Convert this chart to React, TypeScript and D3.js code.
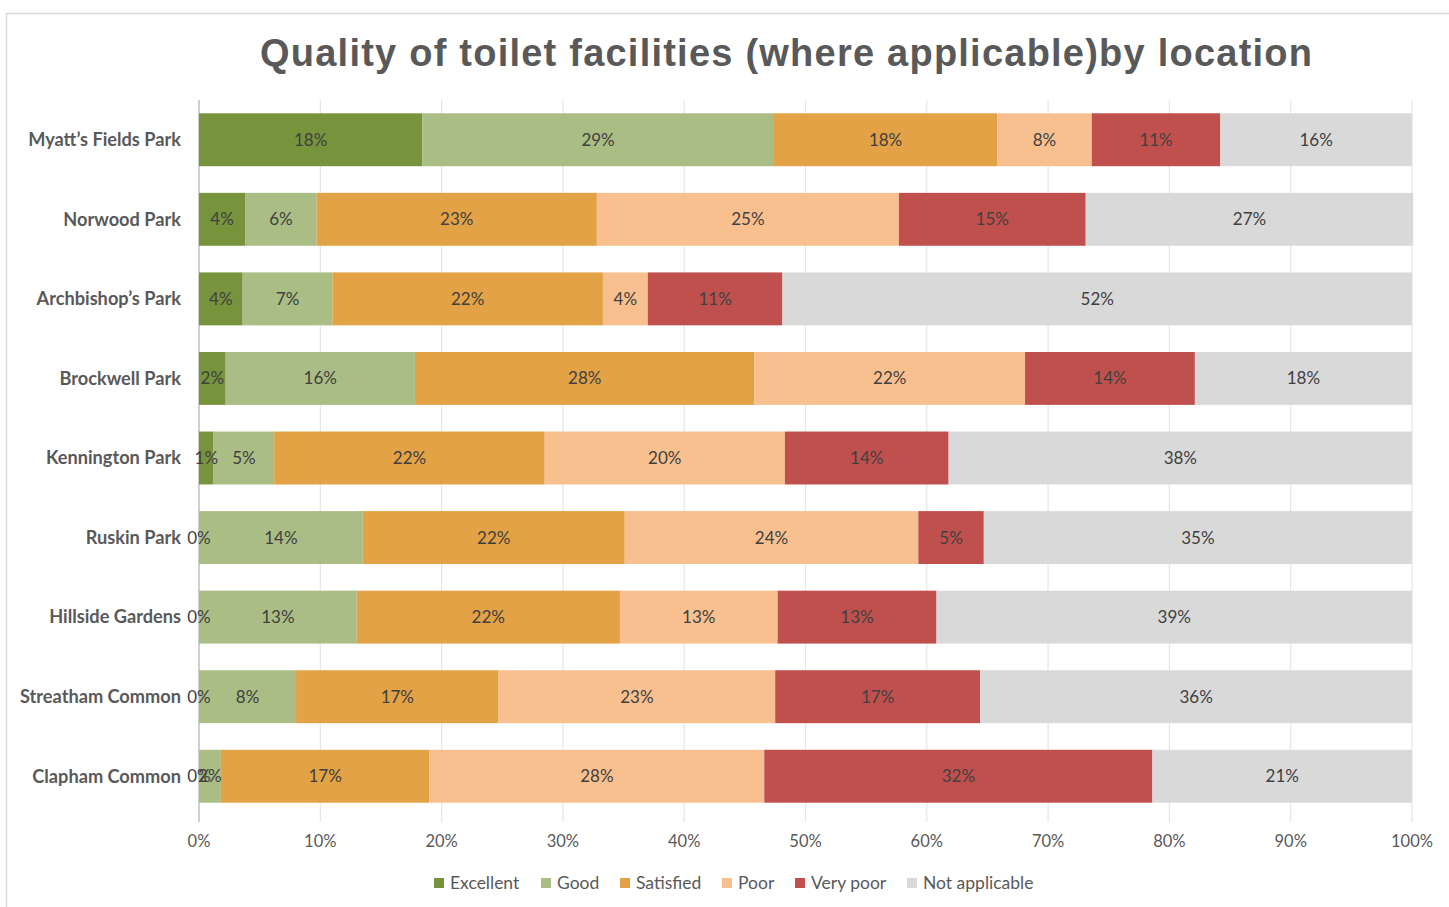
import React from "react";
import * as d3 from "d3";

const categories = [
  "Myatt\u2019s Fields Park",
  "Norwood Park",
  "Archbishop\u2019s Park",
  "Brockwell Park",
  "Kennington Park",
  "Ruskin Park",
  "Hillside Gardens",
  "Streatham Common",
  "Clapham Common",
];

const seriesNames = ["Excellent", "Good", "Satisfied", "Poor", "Very poor", "Not applicable"];

const excellent = [18.4, 3.8, 3.6, 2.2, 1.2, 0, 0, 0, 0];
const good = [29.0, 5.9, 7.4, 15.6, 5.0, 13.5, 13.0, 8.0, 1.8];
const satisfied = [18.4, 23.1, 22.3, 28.0, 22.3, 21.6, 21.7, 16.7, 17.2];
const poor = [7.8, 24.9, 3.7, 22.3, 19.8, 24.2, 13.0, 22.8, 27.6];
const veryPoor = [10.6, 15.4, 11.1, 14.0, 13.5, 5.4, 13.1, 16.9, 32.0];
const notApplicable = [15.8, 27.0, 51.9, 17.9, 38.2, 35.3, 39.2, 35.6, 21.4];

const xTicks = [0, 10, 20, 30, 40, 50, 60, 70, 80, 90, 100];

const colors = ["#77933C", "#A9BD84", "#E2A245", "#F9C08F", "#C0504D", "#D9D9D9"];

const allSeries = [excellent, good, satisfied, poor, veryPoor, notApplicable];

const W = 1449;
const H = 907;
const plotLeft = 199;
const plotRight = 1412;
const plotTop = 100;
const plotBottom = 816;

export default function App() {
  const x = d3.scaleLinear().domain([0, 100]).range([plotLeft, plotRight]);
  const y = d3
    .scaleBand<string>()
    .domain(categories)
    .range([plotTop, plotBottom])
    .paddingInner(0.335)
    .paddingOuter(0.167);

  const table = categories.map((c, i) => {
    const row: any = { cat: c };
    seriesNames.forEach((s, j) => (row[s] = allSeries[j][i]));
    return row;
  });
  const stacked = d3.stack<any>().keys(seriesNames)(table);

  const labelFont = "Lato, 'Open Sans', sans-serif";

  const legendX = [434, 541, 620, 722, 795, 907];
  const legendY = 883;

  return (
    <svg
      width={W}
      height={H}
      style={{ position: "absolute", left: 0, top: 0, background: "#fff" }}
      xmlns="http://www.w3.org/2000/svg"
    >
      <rect x={6.5} y={13.5} width={1460} height={1000} fill="#fff" stroke="#D9D9D9" strokeWidth={1.5} />
      <text
        x={260}
        y={66}
        textLength={1052}
        lengthAdjust="spacing"
        fontFamily="'Liberation Sans', Arial, sans-serif"
        fontWeight="bold"
        fontSize={38}
        fill="#595959"
      >
        Quality of toilet facilities (where applicable)by location
      </text>

      {xTicks.map((t) => (
        <line
          key={"g" + t}
          x1={x(t)}
          x2={x(t)}
          y1={plotTop}
          y2={plotBottom + 6}
          stroke={t === 0 ? "#BFBFBF" : "#E6E6E6"}
          strokeWidth={t === 0 ? 1.5 : 1.2}
        />
      ))}

      {stacked.map((layer, j) =>
        layer.map((d, i) => (
          <rect
            key={"b" + j + "-" + i}
            x={x(d[0])}
            y={y(categories[i])}
            width={Math.max(0, x(d[1]) - x(d[0]))}
            height={y.bandwidth()}
            fill={colors[j]}
          />
        ))
      )}

      {stacked.map((layer, j) =>
        layer.map((d, i) => (
          <text
            key={"l" + j + "-" + i}
            x={(x(d[0]) + x(d[1])) / 2}
            y={(y(categories[i]) as number) + y.bandwidth() / 2}
            dy="0.35em"
            textAnchor="middle"
            fontFamily={labelFont}
            fontSize={17}
            fill="#404040"
          >
            {Math.round(allSeries[j][i]) + "%"}
          </text>
        ))
      )}

      {categories.map((c) => (
        <text
          key={"c" + c}
          x={181}
          y={(y(c) as number) + y.bandwidth() / 2}
          dy="0.35em"
          textAnchor="end"
          fontFamily={labelFont}
          fontWeight="bold"
          fontSize={18.2}
          fill="#595959"
        >
          {c}
        </text>
      ))}

      {xTicks.map((t) => (
        <text
          key={"t" + t}
          x={x(t)}
          y={841}
          dy="0.35em"
          textAnchor="middle"
          fontFamily={labelFont}
          fontSize={16.5}
          fill="#595959"
        >
          {t + "%"}
        </text>
      ))}

      {seriesNames.map((s, j) => (
        <g key={"lg" + s}>
          <rect x={legendX[j]} y={legendY - 5} width={10} height={10} fill={colors[j]} />
          <text
            x={legendX[j] + 16}
            y={legendY}
            dy="0.35em"
            fontFamily={labelFont}
            fontSize={17.5}
            fill="#595959"
          >
            {s}
          </text>
        </g>
      ))}
    </svg>
  );
}
